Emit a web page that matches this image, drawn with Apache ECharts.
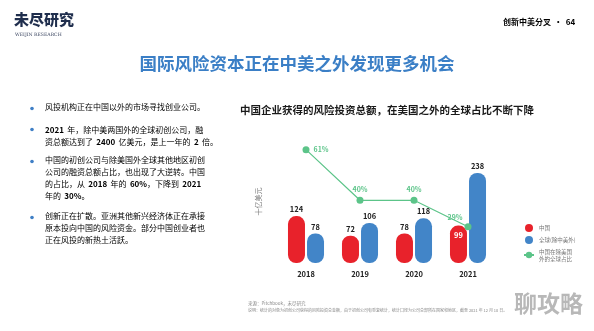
<!DOCTYPE html>
<html>
<head>
<meta charset="utf-8">
<script src="https://cdn.jsdelivr.net/npm/echarts@6/dist/echarts.min.js"></script>
<style>
  html, body { margin: 0; padding: 0; background: #ffffff; }
  #chart { width: 594px; height: 331px; }
</style>
</head>
<body>
<div id="chart"></div>
<script>
// Venture funding for Chinese companies vs. the rest of the world (ex. US & China)
const years = ['2018', '2019', '2020', '2021'];
const chinaFunding = [124, 72, 78, 99];          // 十亿美元
const globalExUSChina = [78, 106, 118, 238];     // 十亿美元
const chinaShare = [61, 40, 40, 29];             // %

const seriesNames = ['中国', '全球(除中美外)', '中国在除美国\n外的全球占比'];

const FONT = '"Noto Sans CJK SC", "Noto Sans", sans-serif';
const RED = '#e8222b';
const BLUE = '#4285c8';
const GREEN = '#5cc489';

const chart = echarts.init(document.getElementById('chart'), null, { renderer: 'canvas' });

const barLabel = { show: true, position: 'top', distance: 3, fontFamily: FONT, fontSize: 7.5, fontWeight: 'bold', color: '#222' };

// the last China bar carries its value inside the bar
const chinaData = chinaFunding.map((v, i) => i === chinaFunding.length - 1
  ? { value: v, label: { position: 'insideTop', distance: 6, color: '#fff' } }
  : v);

const shareLabelPos = ['right', 'top', 'top', 'left'];
const shareData = chinaShare.map((v, i) => ({
  value: v,
  label: shareLabelPos[i] === 'left'
    ? { position: 'left', offset: [2, -9] }
    : { position: shareLabelPos[i] }
}));

// left-hand commentary, with bold figures
const bodyRich = {
  n: { fontFamily: FONT, fontSize: 8, color: '#444', lineHeight: 11.8 },
  b: { fontFamily: FONT, fontSize: 8, color: '#111', fontWeight: 'bold', lineHeight: 11.8 }
};
const bullets = [
  { y: 103, text: '{n|风投机构正在中国以外的市场寻找创业公司。}' },
  { y: 124, text: '{b|2021} {n|年，除中美两国外的全球初创公司，融}\n{n|资总额达到了} {b|2400} {n|亿美元，是上一年的} {b|2} {n|倍。}' },
  { y: 156, text: '{n|中国的初创公司与除美国外全球其他地区初创}\n{n|公司的融资总额占比，也出现了大逆转。中国}\n{n|的占比，从} {b|2018} {n|年的} {b|60%}{n|，下降到} {b|2021}\n{n|年的} {b|30%}{n|。}' },
  { y: 212, text: '{n|创新正在扩散。亚洲其他新兴经济体正在承接}\n{n|原本投向中国的风险资金。部分中国创业者也}\n{n|正在风投的新热土活跃。}' }
];

const graphics = [];
bullets.forEach(b => {
  graphics.push({ type: 'circle', shape: { cx: 32, cy: b.y + 5.5, r: 1.8 }, style: { fill: '#3f7fc6' } });
  graphics.push({ type: 'text', left: 45, top: b.y, style: { text: b.text, rich: bodyRich } });
});

graphics.push(
  // masthead
  { type: 'text', left: 14, top: 12, style: { text: '未尽研究', font: '900 15px ' + FONT, fill: '#1f2e4d' } },
  { type: 'text', left: 15, top: 32, style: { text: 'WEIJIN RESEARCH', font: '4.6px "DejaVu Serif", serif', fill: '#3a4560' } },
  { type: 'text', left: 503, top: 16, style: {
      text: '{t|创新中美分叉} {d|·} {t|64}',
      rich: {
        t: { fontFamily: FONT, fontSize: 8, fontWeight: 'bold', color: '#222' },
        d: { fontFamily: FONT, fontSize: 8, fontWeight: 'bold', color: GREEN }
      } } },
  // page title
  { type: 'text', left: 'center', top: 55, style: { text: '国际风险资本正在中美之外发现更多机会', font: 'bold 17.5px ' + FONT, fill: '#3b7fc6' } },
  // chart title
  { type: 'text', left: 240, top: 105, style: { text: '中国企业获得的风险投资总额，在美国之外的全球占比不断下降', font: 'bold 10.5px ' + FONT, fill: '#1a1a1a' } },
  // notes
  { type: 'text', left: 248, top: 301, style: { text: '来源：Pitchbook，未尽研究', font: '4.5px ' + FONT, fill: '#8a8a8a' } },
  { type: 'text', left: 248, top: 308, style: { text: '说明：统计的对象为初创公司获得的风险投资总金额，由于初创公司有重复统计，统计口径为公司总部所在国家和地区，截至 2021 年 12 月 10 日。', font: '4px ' + FONT, fill: '#8a8a8a' } },
  { type: 'text', left: 514, top: 292, style: { text: '聊攻略', font: 'bold 23px ' + FONT, fill: '#b8b8b8' } }
);

chart.setOption({
  backgroundColor: '#ffffff',
  animation: false,
  textStyle: { fontFamily: FONT },
  grid: { left: 279, right: 99, top: 140, bottom: 68, containLabel: false },
  legend: {
    orient: 'vertical', left: 518, top: 219,
    itemWidth: 10, itemHeight: 8, itemGap: 4,
    data: [
      { name: seriesNames[0], icon: 'circle' },
      { name: seriesNames[1], icon: 'circle' },
      { name: seriesNames[2] }
    ],
    textStyle: { fontFamily: FONT, fontSize: 5.5, color: '#777', lineHeight: 7 }
  },
  xAxis: {
    type: 'category', data: years,
    axisLine: { show: false }, axisTick: { show: false },
    axisLabel: { fontFamily: FONT, fontSize: 7.5, fontWeight: 'bold', color: '#222', margin: 7 }
  },
  yAxis: [
    { type: 'value', min: 0, max: 325, show: true,
      axisLine: { show: false }, axisTick: { show: false }, axisLabel: { show: false }, splitLine: { show: false },
      name: '十亿美元', nameLocation: 'middle', nameRotate: 90, nameGap: 17,
      nameTextStyle: { fontFamily: FONT, fontSize: 7, color: '#777' } },
    { type: 'value', min: 14, max: 65, show: false, splitLine: { show: false } }
  ],
  series: [
    { name: seriesNames[0], type: 'bar', data: chinaData, barWidth: 17, barGap: '12%',
      itemStyle: { color: RED, borderRadius: 8 }, label: barLabel },
    { name: seriesNames[1], type: 'bar', data: globalExUSChina, barWidth: 17,
      itemStyle: { color: BLUE, borderRadius: 8 }, label: barLabel },
    { name: seriesNames[2], type: 'line', yAxisIndex: 1, data: shareData, z: 5,
      symbol: 'circle', symbolSize: 7,
      lineStyle: { color: GREEN, width: 1.2 }, itemStyle: { color: GREEN },
      label: { show: true, formatter: '{c}%', fontFamily: FONT, fontSize: 7, fontWeight: 'bold', color: GREEN, distance: 4 } }
  ],
  graphic: graphics
});
</script>
</body>
</html>
